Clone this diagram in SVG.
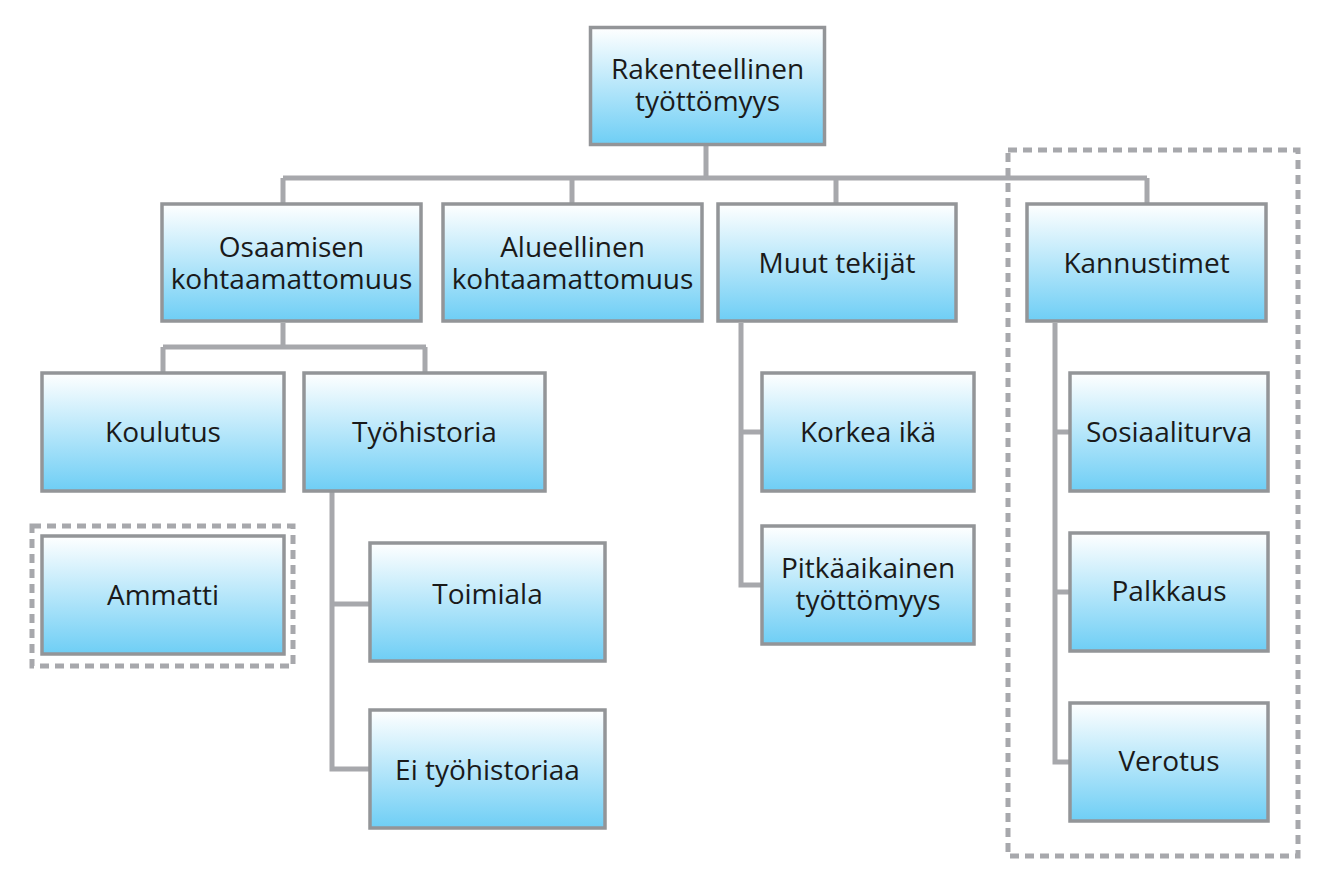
<svg xmlns="http://www.w3.org/2000/svg" width="1324" height="881" viewBox="0 0 1324 881">
<defs>
<linearGradient id="g" x1="0" y1="0" x2="0" y2="1">
<stop offset="0" stop-color="#ffffff"/>
<stop offset="1" stop-color="#6ecef5"/>
</linearGradient>
<style>
.b{fill:url(#g);stroke:#939598;stroke-width:3.5}
.c{fill:none;stroke:#a7a8ac;stroke-width:5}
.d{fill:none;stroke:#a7a8ac;stroke-width:5;stroke-dasharray:9 6}
text{font-family:"Open Sans","Noto Sans",sans-serif;font-size:28px;fill:#1a1a1a;text-anchor:middle}
</style>
</defs>
<rect width="1324" height="881" fill="#ffffff"/>
<g id="connectors">
<path class="c" d="M706 145V178M283 178H1147M283 178V203M572 178V203M836 178V203M1147 178V203"/>
<path class="c" d="M283 323V347M163 347H426M163 347V372M425 347V372"/>
<path class="c" d="M332 492V769H369M332 604H369"/>
<path class="c" d="M741 323V585H761M741 432H761"/>
<path class="c" d="M1055 323V762H1069M1055 432H1069M1055 592H1069"/>
</g>
<g id="dash-kannustimet"><rect class="d" x="1008" y="150" width="290" height="706"/></g>
<g id="dash-ammatti"><rect class="d" x="32" y="526" width="261" height="140"/></g>
<g id="n-root"><rect class="b" x="590.5" y="27.5" width="234" height="117"/><text x="707.5" y="79">Rakenteellinen</text><text x="707.5" y="111">työttömyys</text></g>
<g id="n-osaamisen"><rect class="b" x="162" y="204" width="259" height="117"/><text x="291.5" y="257">Osaamisen</text><text x="291.5" y="289">kohtaamattomuus</text></g>
<g id="n-alueellinen"><rect class="b" x="443" y="204" width="259" height="117"/><text x="572.5" y="257">Alueellinen</text><text x="572.5" y="289">kohtaamattomuus</text></g>
<g id="n-muut"><rect class="b" x="718" y="204" width="238" height="117"/><text x="837" y="273">Muut tekijät</text></g>
<g id="n-kannustimet"><rect class="b" x="1027" y="204" width="239" height="117"/><text x="1146.5" y="273">Kannustimet</text></g>
<g id="n-koulutus"><rect class="b" x="42" y="373" width="242" height="118"/><text x="163" y="442">Koulutus</text></g>
<g id="n-tyohistoria"><rect class="b" x="304" y="373" width="241" height="118"/><text x="424.5" y="442">Työhistoria</text></g>
<g id="n-ammatti"><rect class="b" x="42" y="536" width="242" height="118"/><text x="163" y="605">Ammatti</text></g>
<g id="n-toimiala"><rect class="b" x="370" y="543" width="235" height="118"/><text x="487.5" y="604">Toimiala</text></g>
<g id="n-ei"><rect class="b" x="370" y="710" width="235" height="118"/><text x="487.5" y="780">Ei työhistoriaa</text></g>
<g id="n-korkea"><rect class="b" x="762" y="373" width="212" height="118"/><text x="868" y="442">Korkea ikä</text></g>
<g id="n-pitka"><rect class="b" x="762" y="526" width="212" height="118"/><text x="868" y="578">Pitkäaikainen</text><text x="868" y="610">työttömyys</text></g>
<g id="n-sosiaali"><rect class="b" x="1070" y="373" width="198" height="118"/><text x="1169" y="442">Sosiaaliturva</text></g>
<g id="n-palkkaus"><rect class="b" x="1070" y="533" width="198" height="118"/><text x="1169" y="601">Palkkaus</text></g>
<g id="n-verotus"><rect class="b" x="1070" y="703" width="198" height="118"/><text x="1169" y="771">Verotus</text></g>
</svg>
